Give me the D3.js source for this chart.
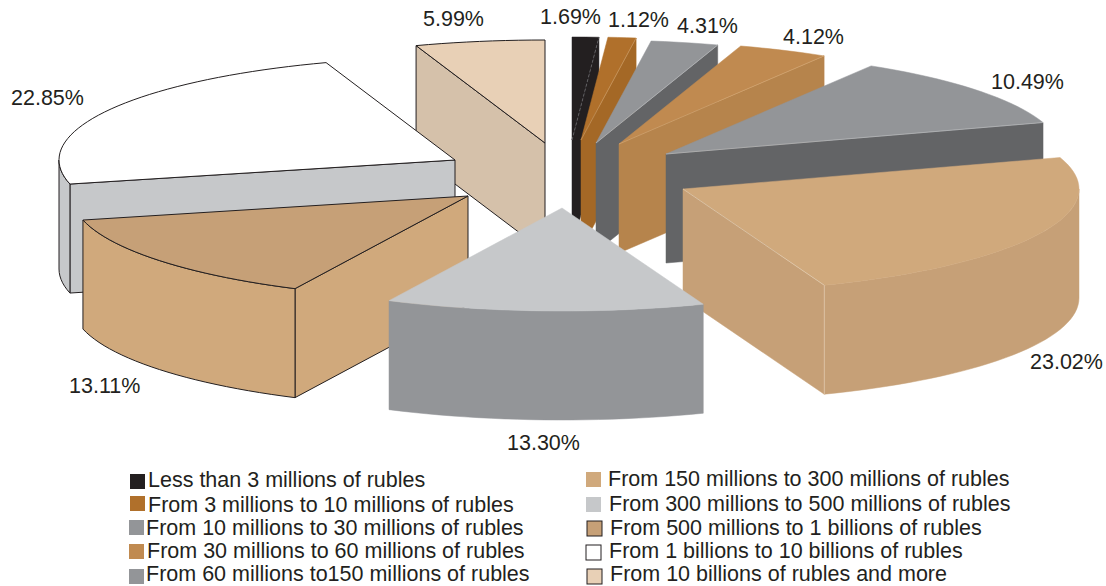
<!DOCTYPE html>
<html lang="en">
    <head>
        <meta charset="UTF-8" />
        <title>Companies by size of assets</title>
        <script src="https://d3js.org/d3.v7.min.js"></script>
        <style>
            html, body { margin: 0; padding: 0; background: #fff; }
            svg { display: block; }
            text { font-family: "Liberation Sans", Arial, sans-serif; fill: #231f20; }
        </style>
    </head>
    <body>
        <svg width="1106" height="586"></svg>

        <script>
            // Data, clockwise from the top of the pie
            const categories = [
                "Less than 3 millions of rubles",
                "From 3 millions to 10 millions of rubles",
                "From 10 millions to 30 millions of rubles",
                "From 30 millions to 60 millions of rubles",
                "From 60 millions to150 millions of rubles",
                "From 150 millions to 300 millions of rubles",
                "From 300 millions to 500 millions of rubles",
                "From 500 millions to 1 billions of rubles",
                "From 1 billions to 10 billions of rubles",
                "From 10 billions of rubles and more",
            ];
            const shares = [1.69, 1.12, 4.31, 4.12, 10.49, 23.02, 13.3, 13.11, 22.85, 5.99];

            // The printed pie is not drawn to scale: slice edges measured on the rim, in degrees
            const rimDegrees = [0, 3.9, 8, 17.9, 31.2, 72.2, 159.1, 205.9, 256.5, 341, 360];

            // Colours
            const topColors = ["#231f20", "#b0702b", "#939598", "#c08a50", "#939598", "#d0a97c", "#c6c8ca", "#c6a077", "#ffffff", "#e8d0b6"];
            const sideColors = ["#231f20", "#a46826", "#636466", "#b6844c", "#636466", "#c6a077", "#939598", "#d0a97c", "#c6c8ca", "#d5c1aa"];
            const swatchColors = ["#231f20", "#b0702b", "#939598", "#c08a50", "#939598", "#d0a97c", "#c6c8ca", "#c6a077", "#ffffff", "#e8d0b6"];
            const outlineColors = [null, null, null, null, null, null, null, "#231f20", "#231f20", "#231f20"];
            const seamColors = ["#77777a", "#c99a63", "#b9babc", "#d2a673", "#b9babc", "#e2cfb4", null, null, null, null];

            // Layout
            const centerX = 565;
            const centerY = 165;
            const radiusX = 396;
            const radiusY = 103;
            const depth = 109;
            const explodeX = [7, 16, 31, 54, 101, 118, -3, -97, -110, -20];
            const explodeY = [-25, -25, -22, -21, -11, 24, 43, 31, -5, -22];
            const drawOrder = [0, 1, 2, 3, 4, 5, 9, 8, 7, 6];
            const labelX = [540, 608, 677, 783, 991, 1030, 507, 69, 11, 423];
            const labelY = [24, 27, 33, 44, 89, 369, 450, 393, 105, 26];
            const swatchX = [130, 130, 129, 129, 129, 586, 586, 587, 586, 587];
            const swatchY = [474, 496, 520, 544, 569, 472, 497, 521, 545, 569];
            const legendX = [148, 148, 146, 147, 146, 608, 609, 610, 609, 610];
            const legendY = [487, 512, 535, 558, 581, 486, 511, 535, 558, 581];

            const svg = d3.select("svg");

            const rad = Math.PI / 180;
            const pie = d3.pie().sort(null).value((d) => d)(shares);
            const rimAngle = d3
                .scaleLinear()
                .domain(pie.map((d) => d.startAngle).concat(2 * Math.PI))
                .range(rimDegrees.map((d) => d * rad));

            const xScale = d3.scaleLinear().domain([-1, 1]).range([-radiusX, radiusX]);
            const yScale = d3.scaleLinear().domain([-1, 1]).range([radiusY, -radiusY]);

            // Point on the rim of slice i, dropped by h pixels
            function rimPoint(i, a, h) {
                return [
                    centerX + explodeX[i] + xScale(Math.sin(a)),
                    centerY + explodeY[i] + yScale(Math.cos(a)) + h,
                ];
            }

            function apex(i, h) {
                return [centerX + explodeX[i], centerY + explodeY[i] + h];
            }

            function rimPoints(i, a0, a1, h) {
                const steps = Math.max(2, Math.ceil((a1 - a0) / (2 * rad)));
                return d3.range(steps + 1).map((k) => rimPoint(i, a0 + ((a1 - a0) * k) / steps, h));
            }

            const line = d3.line();

            // Slices, back to front
            drawOrder.forEach((i) => {
                const a0 = rimAngle(pie[i].startAngle);
                const a1 = rimAngle(pie[i].endAngle);
                const g = svg.append("g");
                const outline = outlineColors[i];

                function face(points, fill) {
                    g.append("path")
                        .attr("d", line(points) + "Z")
                        .attr("fill", fill)
                        .attr("stroke", outline || fill)
                        .attr("stroke-width", outline ? 1 : 0.5)
                        .attr("stroke-linejoin", "round");
                }

                // Cut face on the far end of the slice, seen on the right half
                if (a1 < Math.PI) {
                    face([apex(i, 0), rimPoint(i, a1, 0), rimPoint(i, a1, depth), apex(i, depth)], sideColors[i]);
                }
                // Cut face on the near end, seen on the left half
                if (a0 > Math.PI) {
                    face([apex(i, 0), rimPoint(i, a0, 0), rimPoint(i, a0, depth), apex(i, depth)], sideColors[i]);
                }
                // Outer wall, only the part turned to the viewer
                const w0 = Math.max(a0, Math.PI / 2);
                const w1 = Math.min(a1, (3 * Math.PI) / 2);
                if (w1 > w0) {
                    face(rimPoints(i, w0, w1, 0).concat(rimPoints(i, w0, w1, depth).reverse()), sideColors[i]);
                }
                // Top of the slice
                face([apex(i, 0)].concat(rimPoints(i, a0, a1, 0)), topColors[i]);

                // Thin light seam where the top meets the cut face
                if (seamColors[i]) {
                    g.append("path")
                        .attr("d", line([apex(i, 0), rimPoint(i, a1, 0)]))
                        .attr("fill", "none")
                        .attr("stroke", seamColors[i])
                        .attr("stroke-width", 0.7)
                        .attr("stroke-dasharray", i === 0 ? "3,2" : null);
                }
            });

            // Vertical seam at the front corner of the big tan slice
            const tanCorner = rimAngle(pie[5].endAngle);
            svg.append("path")
                .attr("d", line([rimPoint(5, tanCorner, 0), rimPoint(5, tanCorner, depth)]))
                .attr("stroke", seamColors[5])
                .attr("stroke-width", 0.7);

            // Percent labels
            svg.selectAll(".pct")
                .data(shares)
                .enter()
                .append("text")
                .attr("class", "pct")
                .attr("x", (d, i) => labelX[i])
                .attr("y", (d, i) => labelY[i])
                .attr("font-size", 21.5)
                .text((d) => d3.format(".2f")(d) + "%");

            // Legend
            svg.selectAll(".swatch")
                .data(categories)
                .enter()
                .append("rect")
                .attr("class", "swatch")
                .attr("x", (d, i) => swatchX[i])
                .attr("y", (d, i) => swatchY[i])
                .attr("width", 15)
                .attr("height", 15)
                .attr("fill", (d, i) => swatchColors[i])
                .attr("stroke", (d, i) => (i >= 7 ? "#231f20" : "none"))
                .attr("stroke-width", 1);

            svg.selectAll(".legend")
                .data(categories)
                .enter()
                .append("text")
                .attr("class", "legend")
                .attr("x", (d, i) => legendX[i])
                .attr("y", (d, i) => legendY[i])
                .attr("font-size", 21.5)
                .text((d) => d);
        </script>
    </body>
</html>
